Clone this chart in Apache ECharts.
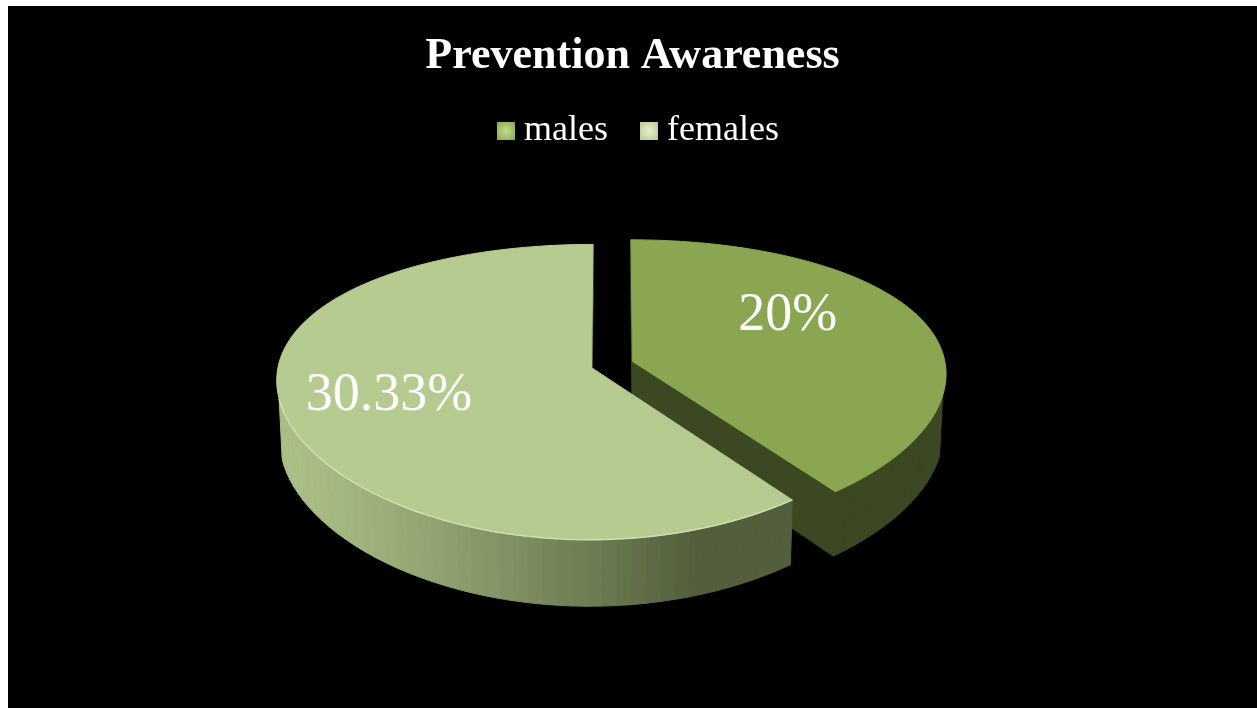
<!DOCTYPE html>
<html>
<head>
<meta charset="utf-8">
<script src="https://cdn.jsdelivr.net/npm/echarts@6/dist/echarts.min.js"></script>
<style>
  html, body { margin: 0; padding: 0; background: #fff; }
  #chart { position: absolute; left: 8px; top: 6px; width: 1249px; height: 702px; background: #000; }
</style>
</head>
<body>
<div id="chart"></div>
<script>
// ---- data ----
const titleText = 'Prevention Awareness';
const seriesNames = ['males', 'females'];
const seriesValues = [20, 30.33];

// ---- styles ----
const topColors = ['#8aa650', '#b6cb90'];
const wallLightColors = ['#56662e', '#aabf86'];
const wallDarkColors = ['#3c4822', '#535f3c'];
const rimHighlight = [null, '#d6e4bd'];
const legendCenterColors = ['#c4dc8c', '#e4f0cf'];
const FONT = "'Liberation Serif', 'Times New Roman', serif";

// ---- 3D pie geometry (chart pixels) ----
const CX = 604, CY = 358.5;        // projected pie centre
const R = 313;                      // radius
const THICK = 67;                   // pie height
const EXPLODE = 21.6;               // slice explosion distance
const SIN_T = 0.4556, COS_T = Math.sqrt(1 - SIN_T * SIN_T); // viewing elevation
const CAM = 1689;                   // camera distance (perspective)
const SEG = 144;                    // arc subdivisions per full turn
// label placement: fraction of radius along slice middle, extra offsets
const labelRho = [0.55, 0.69];
const labelShiftX = [-5, 7];
const labelShiftY = [-22, -4];

const total = seriesValues.reduce((a, b) => a + b, 0);
const startAngles = [];
let acc = 0;
seriesValues.forEach(v => { startAngles.push(acc / total * Math.PI * 2); acc += v; });

// world: x right, h up, z toward viewer; returns screen point
function project(x, h, z) {
  const depth = h * SIN_T + z * COS_T;
  const s = CAM / (CAM - depth);
  return [CX + x * Math.sqrt(s), CY - (h * COS_T - z * SIN_T) * s];
}
const camPos = [0, CAM * SIN_T, CAM * COS_T];
function facing(p, n) {
  return (camPos[0] - p[0]) * n[0] + (camPos[1] - p[1]) * n[1] + (camPos[2] - p[2]) * n[2] > 0;
}
function hexToRgb(h) {
  const v = parseInt(h.slice(1), 16);
  return [(v >> 16) & 255, (v >> 8) & 255, v & 255];
}
function mix(c1, c2, t) {
  const a = hexToRgb(c1), b = hexToRgb(c2);
  const r = a.map((x, i) => Math.round(x + (b[i] - x) * t));
  return 'rgb(' + r.join(',') + ')';
}
// light direction in ground plane (x, z)
const LX = -0.95, LZ = 0.3, LN = Math.hypot(LX, LZ);

function poly(points, color) {
  return { type: 'polygon', shape: { points: points }, style: { fill: color, stroke: color, lineWidth: 1, lineJoin: 'round' } };
}

function makeRenderer(idx) {
  return function (params, api) {
    const value = api.value(0);
    const a0 = startAngles[idx];
    const a1 = a0 + value / total * Math.PI * 2;
    const mid = (a0 + a1) / 2;
    const ox = EXPLODE * Math.sin(mid), oz = -EXPLODE * Math.cos(mid);
    const ground = (r, th) => [ox + r * Math.sin(th), oz - r * Math.cos(th)];
    const pt = (r, th, h) => { const g = ground(r, th); return project(g[0], h, g[1]); };
    const children = [];
    const apex3 = [ox, 0, oz];
    const dark = wallDarkColors[idx], light = wallLightColors[idx];

    // radial cut faces
    [[a0, -1], [a1, 1]].forEach(([th, sgn]) => {
      const n = [sgn * Math.cos(th), 0, sgn * Math.sin(th)];
      if (facing(apex3, n)) {
        children.push(poly([pt(0, th, 0), pt(R, th, 0), pt(R, th, -THICK), pt(0, th, -THICK)], dark));
      }
    });

    // outer curved wall
    const steps = Math.max(4, Math.ceil((a1 - a0) / (Math.PI * 2) * SEG));
    const rim = [];
    for (let k = 0; k < steps; k++) {
      const t1 = a0 + (a1 - a0) * k / steps;
      const t2 = a0 + (a1 - a0) * (k + 1) / steps;
      const tm = (t1 + t2) / 2;
      const n = [Math.sin(tm), 0, -Math.cos(tm)];
      const g = ground(R, tm);
      if (!facing([g[0], 0, g[1]], n)) continue;
      const inten = Math.max(0, (n[0] * LX + n[2] * LZ) / LN);
      children.push(poly([pt(R, t1, 0), pt(R, t2, 0), pt(R, t2, -THICK), pt(R, t1, -THICK)], mix(dark, light, inten)));
      if (!rim.length) rim.push(pt(R, t1, 0));
      rim.push(pt(R, t2, 0));
    }

    // top face
    const topPts = [pt(0, a0, 0)];
    for (let k = 0; k <= steps; k++) {
      topPts.push(pt(R, a0 + (a1 - a0) * k / steps, 0));
    }
    children.push(poly(topPts, topColors[idx]));

    // light rim along the visible front edge of the top face
    if (rimHighlight[idx] && rim.length > 1) {
      children.push({
        type: 'polyline',
        shape: { points: rim },
        style: { stroke: rimHighlight[idx], lineWidth: 1.5, fill: null, opacity: 0.8 }
      });
    }

    // value label
    const lp = pt(R * labelRho[idx], mid, 0);
    children.push({
      type: 'text',
      x: lp[0] + labelShiftX[idx],
      y: lp[1] + labelShiftY[idx],
      style: {
        text: value + '%',
        fill: '#ffffff',
        fontSize: 54,
        fontFamily: FONT,
        align: 'center',
        verticalAlign: 'middle'
      }
    });
    return { type: 'group', children: children };
  };
}

const chart = echarts.init(document.getElementById('chart'), null, { renderer: 'canvas' });
chart.setOption({
  backgroundColor: '#000',
  animation: false,
  title: {
    text: titleText,
    left: 'center',
    top: 29,
    padding: 0,
    textStyle: { color: '#fff', fontSize: 44, fontWeight: 'bold', fontFamily: FONT }
  },
  legend: {
    data: seriesNames.map((name, i) => ({
      name: name,
      itemStyle: {
        color: {
          type: 'radial', x: 0.5, y: 0.5, r: 0.7,
          colorStops: [{ offset: 0, color: legendCenterColors[i] }, { offset: 1, color: topColors[i] }]
        }
      }
    })),
    top: 107,
    left: 489,
    padding: 0,
    icon: 'rect',
    itemWidth: 18,
    itemHeight: 18,
    itemGap: 32,
    selectedMode: false,
    textStyle: { color: '#fff', fontSize: 36, fontFamily: FONT, padding: [0, 0, 0, 4] }
  },
  series: seriesNames.map((name, i) => ({
    type: 'custom',
    name: name,
    coordinateSystem: 'none',
    silent: true,
    itemStyle: { color: topColors[i] },
    data: [[seriesValues[i]]],
    renderItem: makeRenderer(i)
  }))
});
</script>
</body>
</html>
